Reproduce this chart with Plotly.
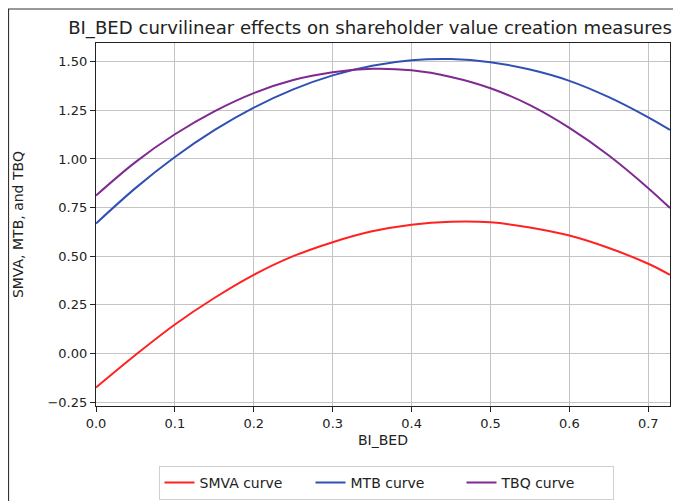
import plotly.graph_objects as go

# values
bi_bed = [0.0, 0.05, 0.1, 0.15, 0.2, 0.25, 0.3, 0.35, 0.4, 0.45, 0.5, 0.55, 0.6, 0.65, 0.7, 0.7275]
smva = [-0.175, -0.008, 0.149, 0.285, 0.404, 0.500, 0.572, 0.628, 0.662, 0.677, 0.674, 0.648, 0.606, 0.542, 0.461, 0.404]
mtb = [0.668, 0.850, 1.010, 1.148, 1.264, 1.358, 1.430, 1.480, 1.508, 1.514, 1.498, 1.460, 1.402, 1.318, 1.214, 1.149]
tbq = [0.812, 0.984, 1.127, 1.245, 1.339, 1.406, 1.446, 1.464, 1.456, 1.422, 1.364, 1.277, 1.160, 1.018, 0.850, 0.748]

series = [("SMVA curve", smva, "#ff2222"), ("MTB curve", mtb, "#3150b3"), ("TBQ curve", tbq, "#7e2a91")]

fig = go.Figure()
for name, vals, col in series:
    fig.add_trace(go.Scatter(x=bi_bed, y=vals, mode="lines", name=name,
                             line=dict(color=col, width=2, shape="spline", smoothing=1.0)))

font = "DejaVu Sans, Arial, sans-serif"
OFF = 8  # page body margin
W, H = 681 - OFF, 501 - OFF
L, T = 96 - OFF, 43 - OFF
R = W - (670 - OFF)
B = H - (406 - OFF)
pw, ph = W - L - R, H - T - B

def px(x):  # page x -> paper
    return (x - OFF - L) / pw

def py(y):  # page y -> paper
    return (H - B - (y - OFF)) / ph

fig.update_layout(
    width=W, height=H,
    margin=dict(l=L, r=R, t=T, b=B, autoexpand=False),
    plot_bgcolor="white", paper_bgcolor="white",
    font=dict(family=font, size=13, color="#222222"),
    title=dict(text="BI_BED curvilinear effects on shareholder value creation measures",
               x=px(370), xref="paper", xanchor="center",
               yref="container", y=1 - (28 - OFF) / H, yanchor="middle",
               font=dict(size=18.1, family=font, color="#222222")),
    xaxis=dict(range=[0, 0.7275], tickvals=[0, 0.1, 0.2, 0.3, 0.4, 0.5, 0.6, 0.7],
               ticktext=["0.0", "0.1", "0.2", "0.3", "0.4", "0.5", "0.6", "0.7"],
               showgrid=True, gridcolor="#c4c4c4", gridwidth=1,
               showline=True, linecolor="#222222", linewidth=1.2, mirror=True,
               ticks="outside", ticklen=5, tickcolor="#222222", zeroline=False,
               ticklabelstandoff=0, automargin=False,
               title=dict(text="BI_BED", standoff=5, font=dict(size=14))),
    yaxis=dict(range=[-0.2705, 1.5965], tickvals=[-0.25, 0, 0.25, 0.5, 0.75, 1.0, 1.25, 1.5],
               ticktext=["\u22120.25", "0.00", "0.25", "0.50", "0.75", "1.00", "1.25", "1.50"],
               showgrid=True, gridcolor="#c4c4c4", gridwidth=1,
               showline=True, linecolor="#222222", linewidth=1.2, mirror=True,
               ticks="outside", ticklen=5, tickcolor="#222222", zeroline=False,
               automargin=False,
               title=dict(text="SMVA, MTB, and TBQ", standoff=20, font=dict(size=14))),
    legend=dict(orientation="h", x=px(386), xanchor="center",
                yref="container", y=1 - (466 - OFF) / H, yanchor="top",
                bordercolor="#d0d0d0", borderwidth=1, bgcolor="white",
                font=dict(size=14), entrywidth=106, entrywidthmode="pixels"),
    shapes=[
        dict(type="line", xref="paper", yref="paper", x0=px(8.5), x1=px(8.5), y0=py(9), y1=py(501),
             line=dict(color="#333333", width=1.2)),
        dict(type="line", xref="paper", yref="paper", x0=px(8), x1=px(681), y0=py(9), y1=py(9),
             line=dict(color="#333333", width=1.2)),
    ],
)

fig.write_html("out.html")
